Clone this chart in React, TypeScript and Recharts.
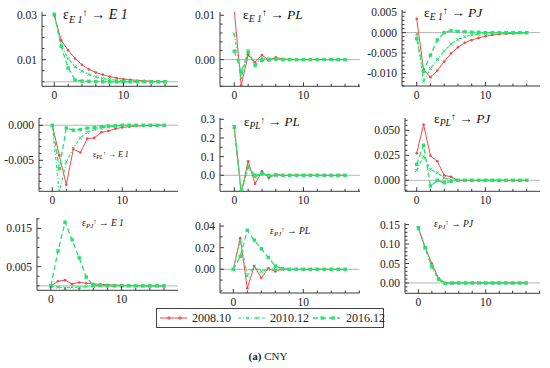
import { LineChart, Line, XAxis, YAxis, ReferenceLine } from "recharts";

// impulse horizon
const periods = [0, 1, 2, 3, 4, 5, 6, 7, 8, 9, 10, 11, 12, 13, 14, 15, 16];
const seriesNames = ["2008.10", "2010.12", "2016.12"];
const shockNames = ["E 1", "E 1", "E 1", "PL", "PL", "PL", "PJ", "PJ", "PJ"];
const responseNames = ["E 1", "PL", "PJ", "E 1", "PL", "PJ", "E 1", "PL", "PJ"];

// E1 -> E1
const e1e1_2008 = [0.03, 0.0187, 0.0142, 0.0105, 0.0077, 0.0056, 0.0042, 0.0032, 0.0023, 0.0017, 0.0012, 0.0009, 0.0006, 0.0004, 0.0003, 0.0002, 0.0001];
const e1e1_2010 = [0.03, 0.0164, 0.0105, 0.0068, 0.0048, 0.0033, 0.0022, 0.0015, 0.001, 0.0007, 0.0004, 0.0003, 0.0002, 0.0001, 0, 0, 0];
const e1e1_2016 = [0.0305, 0.016, 0.0062, 0.0008, 0.0003, 0.0002, 0.0001, 0, 0, 0, 0, 0, 0, 0, 0, 0, 0];
// E1 -> PL
const e1pl_2008 = [0.011, -0.0058, 0.001, -0.0006, 0.001, -0.0002, 0.0005, 0.0001, 0.0001, 0, 0, 0, 0, 0, 0, 0, 0];
const e1pl_2010 = [0.0058, -0.0042, 0.002, -0.0012, 0.0004, -0.0001, 0.0002, 0.0001, 0, 0, 0, 0, 0, 0, 0, 0, 0];
const e1pl_2016 = [0.0019, -0.0028, 0.0017, -0.0013, -0.0002, 0.0001, 0.0001, 0, 0, 0, 0, 0, 0, 0, 0, 0, 0];
// E1 -> PJ
const e1pj_2008 = [0.0034, -0.0091, -0.0109, -0.0093, -0.0071, -0.0051, -0.0036, -0.0025, -0.0018, -0.0013, -0.0009, -0.0006, -0.0004, -0.0003, -0.0002, -0.0001, -0.0001];
const e1pj_2010 = [-0.0003, -0.0119, -0.0088, -0.0066, -0.0045, -0.0028, -0.0017, -0.001, -0.0006, -0.0004, -0.0002, -0.0001, -0.0001, 0, 0, 0, 0];
const e1pj_2016 = [-0.0015, -0.0095, -0.0055, -0.0018, 0, 0.0005, 0.0003, 0.0002, 0.0001, 0.0001, 0, 0, 0, 0, 0, 0, 0];
// PL -> E1
const ple1_2008 = [0, -0.0043, -0.0085, -0.0034, -0.0039, -0.0019, -0.0018, -0.001, -0.0008, -0.0005, -0.0003, -0.0002, -0.0001, -0.0001, 0, 0, 0];
const ple1_2010 = [0, -0.0096, -0.0052, -0.0033, -0.0018, -0.001, -0.0006, -0.0004, -0.0002, -0.0001, -0.0001, 0, 0, 0, 0, 0, 0];
const ple1_2016 = [0, -0.0062, -0.0004, -0.0007, -0.0006, -0.0004, -0.0003, -0.0002, -0.0001, -0.0001, 0, 0, 0, 0, 0, 0, 0];
// PL -> PL
const plpl_2008 = [0.255, -0.095, 0.075, -0.045, 0.021, -0.014, 0.005, -0.002, 0.001, 0, 0, 0, 0, 0, 0, 0, 0];
const plpl_2010 = [0.258, -0.09, 0.04, -0.01, 0.012, -0.004, 0.002, 0, 0, 0, 0, 0, 0, 0, 0, 0, 0];
const plpl_2016 = [0.26, -0.088, 0.045, 0, 0.008, 0, 0.001, 0, 0, 0, 0, 0, 0, 0, 0, 0, 0];
// PL -> PJ
const plpj_2008 = [0.027, 0.0557, 0.0245, 0.019, 0.005, 0.0035, 0.0002, 0, 0, 0, 0, 0, 0, 0, 0, 0, 0];
const plpj_2010 = [0.01, 0.024, 0.011, 0.0075, 0.0025, 0.0005, 0.0002, 0, 0, 0, 0, 0, 0, 0, 0, 0, 0];
const plpj_2016 = [0.016, 0.035, -0.0057, 0, -0.0025, -0.001, 0, 0, 0, 0, 0, 0, 0, 0, 0, 0, 0];
// PJ -> E1
const pje1_2008 = [0, 0.0012, 0.0015, 0.0005, 0.0009, 0.0007, 0.0005, 0.0004, 0.0003, 0.0002, 0.0002, 0.0001, 0.0001, 0, 0, 0, 0];
const pje1_2010 = [0, -0.0003, -0.0005, -0.0003, -0.0004, -0.0002, -0.0001, 0, 0, 0, 0, 0, 0, 0, 0, 0, 0];
const pje1_2016 = [0, 0.0091, 0.0166, 0.012, 0.0073, 0.0023, 0.0001, 0.0001, 0, 0, 0, 0, 0, 0, 0, 0, 0];
// PJ -> PL
const pjpl_2008 = [0, 0.029, -0.0175, 0.003, -0.008, 0.001, -0.002, 0.0002, 0, 0, 0, 0, 0, 0, 0, 0, 0];
const pjpl_2010 = [0, 0.027, -0.006, 0.002, -0.002, 0, 0, 0, 0, 0, 0, 0, 0, 0, 0, 0, 0];
const pjpl_2016 = [0, 0.012, 0.036, 0.027, 0.019, 0.011, 0.003, 0.0005, 0, 0, 0, 0, 0, 0, 0, 0, 0];
// PJ -> PJ
const pjpj_2008 = [0.141, 0.092, 0.05, 0.012, 0, -0.001, 0, 0, 0, 0, 0, 0, 0, 0, 0, 0, 0];
const pjpj_2010 = [0.14, 0.09, 0.04, 0.008, -0.002, 0, 0, 0, 0, 0, 0, 0, 0, 0, 0, 0, 0];
const pjpj_2016 = [0.142, 0.09, 0.043, 0.01, -0.001, 0, 0, 0, 0, 0, 0, 0, 0, 0, 0, 0, 0];

// labelled y ticks per panel
const e1e1Ticks = [0.01, 0.03];
const e1plTicks = [0, 0.01];
const e1pjTicks = [-0.01, -0.005, 0, 0.005];
const ple1Ticks = [-0.005, 0];
const plplTicks = [0, 0.1, 0.2, 0.3];
const plpjTicks = [0, 0.025, 0.05];
const pje1Ticks = [0.005, 0.015];
const pjplTicks = [0, 0.02, 0.04];
const pjpjTicks = [0, 0.05, 0.1, 0.15];
const xLabelTicks = [0, 10];

const RED = "#f34848";
const GREEN = "#25e26c";
const AXIS = "#3a3a3a";
const SERIF = '"Liberation Serif", "DejaVu Serif", serif';
const YW = 45;
const PAD_TOP = 7;
const XH = 18;

const panels = [
  { series: [e1e1_2008, e1e1_2010, e1e1_2016], ticks: e1e1Ticks, minor: 0.005, dec: 2, yMin: -0.00205, yMax: 0.0315, axisX: 42, axisRight: 178, top: 11.7, bottom: 86, x0: 54.3, step: 6.92 },
  { series: [e1pl_2008, e1pl_2010, e1pl_2016], ticks: e1plTicks, minor: 0.002, dec: 2, yMin: -0.00603, yMax: 0.01074, axisX: 220, axisRight: 360, top: 11.7, bottom: 86, x0: 234.3, step: 6.92 },
  { series: [e1pj_2008, e1pj_2010, e1pj_2016], ticks: e1pjTicks, minor: 0.001, dec: 3, yMin: -0.01307, yMax: 0.00553, axisX: 402, axisRight: 540, top: 10, bottom: 86, x0: 416.7, step: 6.875 },
  { series: [ple1_2008, ple1_2010, ple1_2016], ticks: ple1Ticks, minor: 0.001, dec: 3, yMin: -0.00943, yMax: 0.00104, axisX: 39, axisRight: 178, top: 117.7, bottom: 191, x0: 52.3, step: 7.0 },
  { series: [plpl_2008, plpl_2010, plpl_2016], ticks: plplTicks, minor: 0.05, dec: 1, yMin: -0.0857, yMax: 0.307, axisX: 220, axisRight: 360, top: 117.7, bottom: 191, x0: 234.3, step: 6.92 },
  { series: [plpj_2008, plpj_2010, plpj_2016], ticks: plpjTicks, minor: 0.005, dec: 3, yMin: -0.011, yMax: 0.0623, axisX: 405, axisRight: 540, top: 117.7, bottom: 191, x0: 416.7, step: 6.875 },
  { series: [pje1_2008, pje1_2010, pje1_2016], ticks: pje1Ticks, minor: 0.0025, dec: 3, yMin: -0.00115, yMax: 0.0177, axisX: 37, axisRight: 178, top: 218, bottom: 290.3, x0: 50.9, step: 7.07 },
  { series: [pjpl_2008, pjpl_2010, pjpl_2016], ticks: pjplTicks, minor: 0.01, dec: 2, yMin: -0.0219, yMax: 0.0428, axisX: 220, axisRight: 359.5, top: 223, bottom: 293, x0: 233.3, step: 7.0 },
  { series: [pjpj_2008, pjpj_2010, pjpj_2016], ticks: pjpjTicks, minor: 0.01, dec: 2, yMin: -0.0265, yMax: 0.154, axisX: 405, axisRight: 540, top: 222.7, bottom: 293, x0: 418.4, step: 6.73 },
];

const titlePos = [
  { x: 63, y: 8, s: 14 },
  { x: 243, y: 8, s: 13.5 },
  { x: 424, y: 6, s: 13.5 },
  { x: 93, y: 151, s: 8 },
  { x: 244, y: 115, s: 13 },
  { x: 434, y: 112, s: 13.5 },
  { x: 82, y: 219, s: 9.5 },
  { x: 270, y: 227, s: 9.5 },
  { x: 434, y: 220, s: 9.5 },
];

const near = (a: number, b: number) => Math.abs(a - b) < 1e-9;

const redDot = (p: any) => {
  const { cx, cy, key } = p;
  if (cx == null || cy == null) return <g key={key} />;
  return <circle key={key} cx={cx} cy={cy} r={1.3} fill={RED} />;
};

const crossDot = (p: any) => {
  const { cx, cy, key } = p;
  if (cx == null || cy == null) return <g key={key} />;
  const d = 1.6;
  return (
    <path
      key={key}
      d={`M${cx - d},${cy - d}L${cx + d},${cy + d}M${cx - d},${cy + d}L${cx + d},${cy - d}`}
      stroke={GREEN}
      strokeWidth={1}
      fill="none"
    />
  );
};

const squareDot = (p: any) => {
  const { cx, cy, key } = p;
  if (cx == null || cy == null) return <g key={key} />;
  return <rect key={key} x={cx - 1.7} y={cy - 1.7} width={3.4} height={3.4} fill={GREEN} />;
};

function Panel({ p }: { p: (typeof panels)[number] }) {
  const data = periods.map((t, i) => ({
    t,
    a: p.series[0][i],
    b: p.series[1][i],
    c: p.series[2][i],
  }));
  const w = YW + (p.axisRight - p.axisX) + 2;
  const h = PAD_TOP + (p.bottom - p.top) + XH;
  const xMin = (p.axisX - p.x0) / p.step;
  const xMax = (p.axisRight - p.x0) / p.step;
  const xTicks = [0, 2, 4, 6, 8, 10, 12, 14, 16, 18].filter((v) => v <= xMax);

  const yTicks: number[] = [];
  for (let k = Math.ceil(p.yMin / p.minor); k * p.minor <= p.yMax; k++) {
    yTicks.push(Number((k * p.minor).toFixed(6)));
  }
  p.ticks.forEach((v) => {
    if (!yTicks.some((u) => near(u, v))) yTicks.push(v);
  });
  yTicks.sort((a, b) => a - b);

  const xTick = (props: any) => {
    const { x, y, payload } = props;
    const major = xLabelTicks.some((v) => near(v, payload.value));
    return (
      <g>
        <line x1={x} x2={x} y1={y} y2={y - (major ? 4 : 2.5)} stroke={AXIS} />
        {major && (
          <text x={x} y={y + 13} textAnchor="middle" fontSize={11.5} style={{ fontFamily: SERIF }} fill="#222">
            {payload.value}
          </text>
        )}
      </g>
    );
  };

  const yTick = (props: any) => {
    const { x, y, payload } = props;
    const major = p.ticks.some((v) => near(v, payload.value));
    return (
      <g>
        <line x1={x} x2={x + (major ? 4 : 2.5)} y1={y} y2={y} stroke={AXIS} />
        {major && (
          <text x={x - 5} y={y} dy="0.35em" textAnchor="end" fontSize={11.5} style={{ fontFamily: SERIF }} fill="#222">
            {payload.value.toFixed(p.dec)}
          </text>
        )}
      </g>
    );
  };

  return (
    <div style={{ position: "absolute", left: p.axisX - YW, top: p.top - PAD_TOP }}>
      <LineChart width={w} height={h} data={data} margin={{ top: PAD_TOP, right: 2, bottom: 0, left: 0 }}>
        <XAxis
          type="number"
          dataKey="t"
          domain={[xMin, xMax]}
          allowDataOverflow
          ticks={xTicks}
          interval={0}
          height={XH}
          tickSize={0}
          tickMargin={0}
          tickLine={false}
          axisLine={{ stroke: AXIS }}
          tick={xTick}
        />
        <YAxis
          type="number"
          domain={[p.yMin, p.yMax]}
          allowDataOverflow
          ticks={yTicks}
          interval={0}
          width={YW}
          tickSize={0}
          tickMargin={0}
          tickLine={false}
          axisLine={{ stroke: AXIS }}
          tick={yTick}
        />
        <ReferenceLine y={0} stroke="#b5b5b5" strokeWidth={1} />
        <Line dataKey="a" stroke={RED} strokeWidth={1} dot={redDot} isAnimationActive={false} />
        <Line dataKey="b" stroke={GREEN} strokeWidth={1.2} strokeDasharray="3 2 1 2" dot={crossDot} isAnimationActive={false} />
        <Line dataKey="c" stroke={GREEN} strokeWidth={1.3} strokeDasharray="5 3" dot={squareDot} isAnimationActive={false} />
      </LineChart>
    </div>
  );
}

function Title({ i }: { i: number }) {
  const t = titlePos[i];
  return (
    <div
      style={{
        position: "absolute",
        left: t.x,
        top: t.y,
        fontSize: t.s,
        lineHeight: 1,
        fontFamily: SERIF,
        whiteSpace: "nowrap",
        color: "#111",
      }}
    >
      <span>ε</span>
      <span style={{ fontSize: "0.72em", fontStyle: "italic", position: "relative", top: "0.35em" }}>
        {shockNames[i]}
      </span>
      <span style={{ fontSize: "0.72em", position: "relative", top: "-0.3em" }}>↑</span>
      <span> → </span>
      <span style={{ fontStyle: "italic" }}>{responseNames[i]}</span>
    </div>
  );
}

function LegendSwatch({ kind }: { kind: number }) {
  return (
    <svg width={27} height={8} style={{ display: "block" }}>
      {kind === 0 && (
        <>
          <line x1={0} x2={27} y1={4} y2={4} stroke={RED} strokeWidth={1} />
          <path d="M9,2V6M7,4H11M20,2V6M18,4H22" stroke={RED} strokeWidth={1} />
        </>
      )}
      {kind === 1 && (
        <>
          <line x1={0} x2={27} y1={4} y2={4} stroke={GREEN} strokeWidth={1.2} strokeDasharray="3 2 1 2" />
          <path d="M8,2.5L11,5.5M8,5.5L11,2.5M18,2.5L21,5.5M18,5.5L21,2.5" stroke={GREEN} strokeWidth={1} />
        </>
      )}
      {kind === 2 && (
        <>
          <line x1={0} x2={27} y1={4} y2={4} stroke={GREEN} strokeWidth={1.3} strokeDasharray="5 3" />
          <rect x={7.5} y={2.3} width={3.4} height={3.4} fill={GREEN} />
          <rect x={18.5} y={2.3} width={3.4} height={3.4} fill={GREEN} />
        </>
      )}
    </svg>
  );
}

const legendPos = [
  { sw: 160, tx: 192 },
  { sw: 238, tx: 270 },
  { sw: 313, tx: 346 },
];

export default function App() {
  return (
    <div
      style={{
        position: "absolute",
        left: 0,
        top: 0,
        width: 550,
        height: 368,
        background: "#fff",
        overflow: "hidden",
        fontFamily: SERIF,
      }}
    >
      {panels.map((p, i) => (
        <Panel key={i} p={p} />
      ))}
      {panels.map((_, i) => (
        <Title key={i} i={i} />
      ))}
      <div
        style={{
          position: "absolute",
          left: 156,
          top: 308,
          width: 226,
          height: 18,
          border: "1px solid #444",
        }}
      />
      {seriesNames.map((name, i) => (
        <div key={name}>
          <div style={{ position: "absolute", left: legendPos[i].sw, top: 314 }}>
            <LegendSwatch kind={i} />
          </div>
          <div
            style={{
              position: "absolute",
              left: legendPos[i].tx,
              top: 311,
              fontSize: 12,
              lineHeight: "14px",
              color: "#222",
            }}
          >
            {name}
          </div>
        </div>
      ))}
      <div
        style={{
          position: "absolute",
          left: 0,
          width: 536,
          top: 349,
          textAlign: "center",
          fontSize: 11,
          lineHeight: "14px",
          color: "#222",
        }}
      >
        <b>(a)</b> CNY
      </div>
    </div>
  );
}
